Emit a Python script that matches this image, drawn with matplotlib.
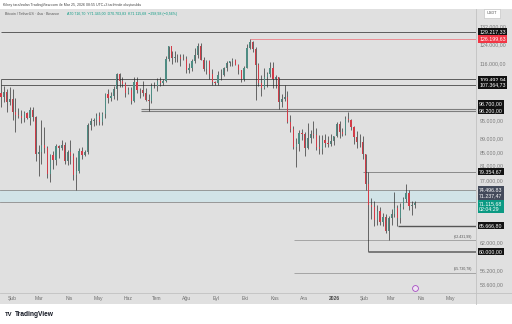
import numpy as np
import pandas as pd
import matplotlib
matplotlib.use("Agg")
import matplotlib.pyplot as plt
import matplotlib.dates as mdates
from matplotlib.patches import Rectangle
from matplotlib.lines import Line2D

plt.rcParams["font.family"] = ["Liberation Sans", "DejaVu Sans"]

# BTC/USDT, 3-day candles, prices in thousands
first_open = 104.5
close = [
    103.0, 104.7, 101.3, 102.4, 97.7, 96.6, 96.5, 95.8, 97.5, 95.6,
    98.3, 96.2, 84.5, 85.0, 87.2, 86.2, 78.6, 84.0, 82.6, 86.8,
    86.1, 87.0, 82.3, 85.1, 83.9, 78.3, 79.6, 85.3, 84.0, 85.0,
    93.4, 94.8, 95.0, 96.5, 94.3, 97.0, 104.0, 102.8, 103.5, 106.0,
    111.7, 109.0, 107.8, 104.6, 105.4, 101.5, 108.7, 105.7, 105.5, 104.5,
    102.0, 101.4, 106.9, 107.1, 108.8, 108.2, 108.9, 117.5, 123.0, 117.9,
    118.3, 118.3, 117.6, 117.8, 113.3, 114.1, 117.0, 119.3, 123.3, 117.4,
    113.5, 116.8, 111.8, 108.4, 108.2, 111.2, 111.1, 113.9, 115.9, 116.8,
    117.1, 115.3, 113.0, 109.7, 114.0, 122.3, 124.7, 121.7, 115.2, 108.2,
    106.4, 110.5, 111.5, 114.1, 109.6, 110.6, 101.3, 102.2, 103.0, 94.4,
    92.2, 86.6, 87.4, 90.9, 90.4, 86.2, 89.3, 90.6, 90.2, 86.5,
    86.0, 88.6, 87.6, 87.3, 88.4, 90.0, 93.8, 91.0, 90.6, 95.3,
    95.1, 92.6, 89.4, 88.1, 87.9, 84.5, 76.0, 70.5, 70.0, 67.0,
    69.2, 66.5, 67.8, 64.5, 67.5, 68.5, 69.8, 67.5, 70.2, 72.0,
    73.5, 70.3, 70.7, 71.11568,
]
high = [
    109.5, 107.0, 106.0, 106.5, 106.0, 102.5, 99.2, 98.5, 98.2, 97.8,
    99.4, 99.5, 96.5, 87.0, 95.0, 92.8, 86.8, 84.5, 85.2, 87.4,
    87.1, 88.7, 88.0, 85.5, 88.5, 84.7, 83.5, 86.1, 86.5, 85.5,
    94.0, 95.8, 95.7, 97.5, 97.9, 97.8, 104.3, 105.8, 104.9, 107.1,
    111.9, 111.9, 110.4, 108.5, 106.8, 106.8, 110.4, 110.5, 106.2, 108.9,
    106.3, 103.9, 108.0, 108.5, 110.0, 110.5, 109.7, 118.9, 123.2, 121.1,
    120.9, 119.7, 119.8, 119.8, 118.8, 115.8, 117.6, 122.3, 124.2, 124.5,
    118.6, 117.4, 117.4, 113.4, 108.9, 112.6, 113.4, 114.3, 116.8, 117.0,
    117.9, 117.5, 115.4, 112.5, 114.8, 123.9, 126.2, 125.1, 122.5, 115.9,
    111.2, 114.0, 112.3, 116.4, 116.2, 111.2, 110.6, 104.0, 107.5, 105.3,
    96.8, 93.2, 89.2, 91.9, 92.0, 91.2, 94.2, 91.8, 94.6, 92.5,
    90.3, 90.3, 90.6, 89.8, 90.4, 90.0, 94.5, 94.8, 92.5, 96.5,
    97.9, 95.5, 93.0, 91.3, 90.5, 89.8, 84.5, 79.35, 72.3, 71.5,
    70.5, 70.0, 68.6, 68.4, 68.0, 69.5, 74.0, 70.5, 71.0, 72.5,
    76.0, 74.5, 71.5, 71.6,
]
low = [
    99.5, 101.3, 97.8, 100.2, 95.0, 91.2, 95.6, 94.1, 94.3, 95.3,
    93.4, 94.8, 82.2, 78.2, 81.4, 84.7, 77.5, 76.6, 80.0, 81.1,
    83.2, 85.6, 81.6, 81.3, 81.4, 77.0, 74.4, 78.9, 83.0, 83.7,
    84.5, 91.7, 93.2, 93.5, 93.5, 93.4, 95.8, 100.7, 101.4, 102.1,
    102.0, 106.7, 106.8, 103.0, 103.9, 100.4, 101.3, 104.4, 102.7, 103.4,
    101.5, 98.2, 101.0, 106.4, 105.1, 107.2, 107.5, 108.4, 117.0, 115.7,
    116.5, 116.2, 114.7, 117.3, 112.0, 112.0, 112.6, 116.0, 118.2, 117.2,
    112.6, 111.7, 109.5, 107.4, 107.3, 107.3, 109.3, 110.7, 112.6, 114.7,
    114.8, 115.0, 111.5, 108.6, 109.0, 113.9, 121.7, 120.6, 102.0, 107.0,
    103.5, 105.8, 106.8, 110.5, 106.3, 106.3, 98.9, 99.3, 101.5, 94.0,
    91.2, 86.0, 80.6, 85.3, 88.6, 83.8, 86.0, 87.7, 89.3, 85.5,
    84.4, 84.4, 86.6, 86.4, 86.8, 87.1, 89.5, 89.3, 89.8, 90.2,
    94.5, 91.8, 87.3, 86.1, 86.5, 83.0, 74.5, 60.0, 67.3, 65.7,
    65.9, 65.8, 65.5, 64.0, 62.43, 65.8, 67.8, 65.67, 66.2, 69.5,
    71.3, 69.4, 68.2, 69.9,
]

# drawn levels: price, start date
levels = [129217.33, 126199.63, 109492.94, 107364.73, 98700.00, 98200.00,
          79354.67, 65666.80, 60000.00]
level_start = ["2025-01-21", "2025-10-06", "2025-01-21", "2025-01-21", "2025-06-15",
               "2025-06-15", "2026-01-31", "2026-03-08", "2026-02-06"]
zone = [74496.83, 71237.47]
measures = [62431.99, 55730.78]
measure_start = "2025-11-20"
last_price = 71115.68

price_ticks = [132000, 124000, 116000, 95000, 89000, 85000, 81000, 77000,
               62000, 56200, 53600]
month_dates = pd.date_range("2025-02-01", "2026-05-01", freq="MS")
month_labels = ["Şub", "Mar", "Nis", "May", "Haz", "Tem", "Ağu", "Eyl", "Eki",
                "Kas", "Ara", "2026", "Şub", "Mar", "Nis", "May"]

BG = "#e0e0e0"
SEP = "#c2c2c2"
W, H = 512, 324


def fx(px):
    return px / W


def fy(py):
    return 1 - py / H


def tr(v):
    # 129,217.33 -> 129.217,33
    return f"{v:,.2f}".replace(",", "X").replace(".", ",").replace("X", ".")


fig = plt.figure(figsize=(5.12, 3.24), dpi=100, facecolor="white")
fig.patches.append(Rectangle((0, fy(304)), 1, fy(9) - fy(304), transform=fig.transFigure,
                             fc=BG, ec="none", zorder=-5))

ax = fig.add_axes([0, fy(293), fx(476), fy(9) - fy(293)])
ax.set_facecolor(BG)
ax.set_yscale("log")
ax.set_ylim(51900, 140100)
ax.set_xlim(mdates.date2num(pd.Timestamp("2025-01-19 12:00")),
            mdates.date2num(pd.Timestamp("2026-05-28")))
for s in ax.spines.values():
    s.set_visible(False)

# candles
dates = pd.date_range("2025-01-19", periods=len(close), freq="3D")
x = mdates.date2num(dates) + 1.5
c = np.array(close) * 1000
o = np.array([first_open] + close[:-1]) * 1000
h = np.array(high) * 1000
l = np.array(low) * 1000
up = c >= o
ax.vlines(x, l, h, color="#1f1f1f", lw=0.45, zorder=4)
ax.bar(x[up], (c - o)[up], bottom=o[up], width=1.25, color="#4e8c83", lw=0, zorder=5)
ax.bar(x[~up], (o - c)[~up], bottom=c[~up], width=1.25, color="#d23c48", lw=0, zorder=5)

x_end = ax.get_xlim()[1]

# zone
ax.axhspan(zone[1], zone[0], color="#d1e3e7", zorder=1, lw=0)
for p in zone:
    ax.axhline(p, color="#8c8c8c", lw=0.6, zorder=2)

level_style = [("#474747", 0.6), ("#ef6b75", 0.5), ("#474747", 0.6), ("#474747", 0.6),
               ("#7d7d7d", 0.8), ("#7d7d7d", 0.8), ("#8a8a8a", 0.7), ("#555555", 1.0),
               ("#5e5e5e", 1.1)]
for p, d, (col, lw) in zip(levels, level_start, level_style):
    ax.hlines(p, mdates.date2num(pd.Timestamp(d)), x_end, color=col, lw=lw, zorder=2)

for p in measures:
    ax.hlines(p, mdates.date2num(pd.Timestamp(measure_start)), x_end,
              color="#9b9b9b", lw=0.6, zorder=2)
    ax.annotate("(" + tr(p) + ")", xy=(0.992, p), xycoords=ax.get_yaxis_transform(),
                xytext=(0, 2.4), textcoords="offset points", ha="right", va="center",
                fontsize=2.6, color="#555555")

# price scale
ax.yaxis.tick_right()
ax.set_yticks(price_ticks)
ax.set_yticklabels([tr(v) for v in price_ticks])
ax.yaxis.set_minor_locator(matplotlib.ticker.NullLocator())
ax.tick_params(axis="y", length=0, pad=2.6, labelsize=3.8, labelcolor="#7a7a7a")

# time scale
ax.set_xticks(mdates.date2num(month_dates))
ax.set_xticklabels(month_labels)
ax.tick_params(axis="x", length=0, pad=2.2, labelsize=3.6, labelcolor="#6e6e6e")
for t in ax.get_xticklabels():
    if t.get_text() == "2026":
        t.set_fontweight("bold")
        t.set_color("#4a4a4a")


def price_box(p, text, fc, dy=0.0, tc="white"):
    ax.annotate(text, xy=(1, p), xycoords=ax.get_yaxis_transform(), xytext=(2.2, dy),
                textcoords="offset points", ha="left", va="center", fontsize=3.8,
                color=tc, annotation_clip=False, zorder=10,
                bbox=dict(boxstyle="square,pad=0.22", fc=fc, ec="none"))


price_box(levels[0], tr(levels[0]), "#111111")
price_box(levels[1], tr(levels[1]), "#f23645")
price_box(levels[2], tr(levels[2]), "#111111")
price_box(levels[3], tr(levels[3]), "#111111")
price_box(levels[4], tr(levels[4]), "#111111", dy=4.2)
price_box(levels[5], tr(levels[5]), "#111111")
price_box(levels[6], tr(levels[6]), "#111111")
price_box(zone[0], tr(zone[0]), "#434a5a")
price_box(zone[1], tr(zone[1]), "#434a5a", dy=4.6)
price_box(levels[7], tr(levels[7]), "#111111")
price_box(levels[8], tr(levels[8]), "#111111")
price_box(last_price, tr(last_price) + "\n02:04:29", "#0b9a83", dy=-2.4)

# event marker under the last candles
ax.plot([x[-1]], [0.018], transform=ax.get_xaxis_transform(), marker="o", ms=4.2,
        mfc="#efe3f3", mec="#a64cc2", mew=0.6, clip_on=False, zorder=6)

# pane separators
fig.add_artist(Line2D([fx(476), fx(476)], [fy(9), fy(304)], color=SEP, lw=0.6))
fig.add_artist(Line2D([0, 1], [fy(293), fy(293)], color=SEP, lw=0.6))

# header
fig.text(fx(3), fy(5), "Kilrey tarafından TradingView.com ile Mar 25, 2026 08:55 UTC+3 "
         "tarihinde oluşturuldu", fontsize=2.6, color="#444444", va="center")
fig.text(fx(5), fy(14), "Bitcoin / TetherUS · 4sa · Binance", fontsize=2.6,
         color="#555555", va="center")
fig.text(fx(67), fy(14), "A70.716,70  Y71.345,00  D70.703,83  K71.115,68  −298,98 (−0,56%)",
         fontsize=2.6, color="#0b9a83", va="center")
fig.text(fx(492), fy(13.5), "USDT", fontsize=2.8, color="#555555", ha="center", va="center",
         bbox=dict(boxstyle="square,pad=0.6", fc="white", ec="#bdbdbd", lw=0.4))

# footer logo
fig.text(fx(4.5), fy(314), "TV", fontsize=4.2, fontweight="heavy", color="#131722",
         va="center")
fig.text(fx(15), fy(314), "TradingView", fontsize=4.8, fontweight="bold", color="#131722",
         va="center")

fig.savefig("out.png", dpi=100, facecolor="white")
